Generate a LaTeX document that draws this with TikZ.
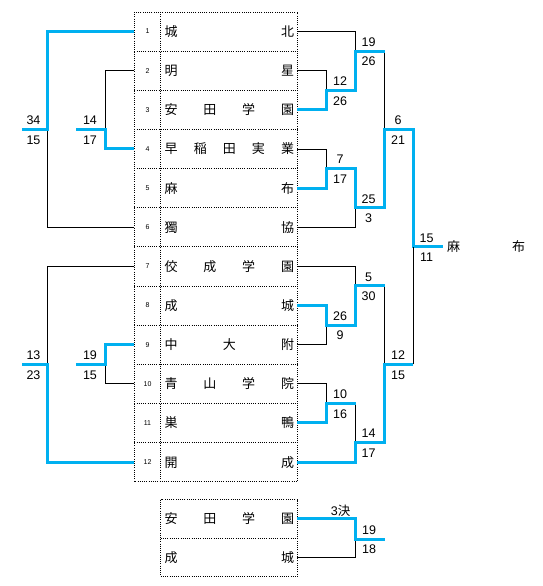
\documentclass[tikz,border=0pt]{standalone}
\usepackage{fontspec}
\setmainfont{Liberation Sans}
\newfontfamily\jp{Noto Sans CJK JP}
\definecolor{bblue}{RGB}{0,176,240}
\begin{document}
\begin{tikzpicture}[x=1pt,y=-1pt,
  win/.style={line width=3pt,bblue},
  lose/.style={line width=0.9pt,black},
  dotl/.style={line width=0.9pt,dash pattern=on 1pt off 1.2pt},
  sc/.style={inner sep=0pt,font=\fontsize{12.5}{12.5}\selectfont},
  num/.style={inner sep=0pt,font=\fontsize{7}{7}\selectfont},
  nm/.style={inner sep=0pt,anchor=west,font=\jp\fontsize{13}{13}\selectfont}]
\useasboundingbox (0,0) rectangle (542,586);
\def\T{12}\def\H{39.14}
% table
\draw[dotl] (134.3,12) rectangle (297.3,481.7);
\draw[dotl] (160.7,12) -- (160.7,481.7);
\foreach \i in {1,...,11}{\draw[dotl] (134.3,{\T+\i*\H}) -- (297.3,{\T+\i*\H});}
\foreach \i in {1,...,12}{
  \coordinate (L\i) at (134.3,{\T+(\i-0.5)*\H});
  \coordinate (R\i) at (297.3,{\T+(\i-0.5)*\H});
  \node[num] (k\i) at (147.5,{\T+(\i-0.5)*\H}) {\i};
}
\foreach \i/\t in {1/{城\hfill 北},2/{明\hfill 星},3/{安\hfill 田\hfill 学\hfill 園},4/{早\hfill 稲\hfill 田\hfill 実\hfill 業},5/{麻\hfill 布},6/{獨\hfill 協},7/{佼\hfill 成\hfill 学\hfill 園},8/{成\hfill 城},9/{中\hfill 大\hfill 附},10/{青\hfill 山\hfill 学\hfill 院},11/{巣\hfill 鴨},12/{開\hfill 成}}{
  \node[nm] (n\i) at (164.5,{\T+(\i-0.5)*\H}) {\makebox[129.3pt][s]{\t}};
}
% boundaries
\foreach \i in {1,...,11}{\coordinate (b\i) at (0,{\T+\i*\H});}
% left junctions
\coordinate (JL1) at (47.3,{\T+3*\H}); \coordinate (EL1) at (22,{\T+3*\H});
\coordinate (JL2) at (105.3,{\T+3*\H}); \coordinate (EL2) at (76.3,{\T+3*\H});
\coordinate (JL3) at (47.3,{\T+9*\H}); \coordinate (EL3) at (22,{\T+9*\H});
\coordinate (JL4) at (105.3,{\T+9*\H}); \coordinate (EL4) at (76.3,{\T+9*\H});
% right junctions
\coordinate (JR1) at (355.7,{\T+1*\H}); \coordinate (A1) at (384.7,{\T+1*\H});
\coordinate (JR23) at (326.3,{\T+2*\H});
\coordinate (SF1) at (384.7,{\T+3*\H}); \coordinate (F1) at (413.3,{\T+3*\H});
\coordinate (JR45) at (326.3,{\T+4*\H});
\coordinate (JR6) at (355.7,{\T+5*\H}); \coordinate (B1) at (384.7,{\T+5*\H});
\coordinate (FJ) at (413.3,{\T+6*\H}); \coordinate (W) at (442.7,{\T+6*\H});
\coordinate (JR7) at (355.7,{\T+7*\H}); \coordinate (C1) at (384.7,{\T+7*\H});
\coordinate (JR89) at (326.3,{\T+8*\H});
\coordinate (SF2) at (384.7,{\T+9*\H}); \coordinate (F2) at (413.3,{\T+9*\H});
\coordinate (JR1011) at (326.3,{\T+10*\H}); \coordinate (D1) at (355.7,{\T+10*\H});
\coordinate (JR12) at (355.7,{\T+11*\H}); \coordinate (E1) at (384.7,{\T+11*\H});
% left brackets
\draw[lose] (JL1) |- (L6);
\draw[win] (L1) -| (JL1) -- (EL1);
\draw[lose] (L2) -| (JL2);
\draw[win] (EL2) -- (JL2) |- (L4);
\draw[lose] (L7) -| (JL3);
\draw[win] (EL3) -- (JL3) |- (L12);
\draw[lose] (JL4) |- (L10);
\draw[win] (EL4) -- (JL4) |- (L9);
% right top
\draw[lose] (R1) -| (JR1);
\draw[lose] (R2) -| (JR23);
\draw[lose] (A1) -- (SF1);
\draw[lose] (R4) -| (JR45);
\draw[lose] (R6) -| (JR6);
\draw[win] (R3) -| (JR23) -| (JR1) -- (A1);
\draw[win] (R5) -| (JR45) -| (JR6) -- (B1) -- (SF1) -- (F1) -- (FJ) -- (W);
% right bottom
\draw[lose] (R7) -| (JR7);
\draw[lose] (R9) -| (JR89);
\draw[lose] (C1) -- (SF2);
\draw[lose] (R10) -| (JR1011);
\draw[lose] (D1) -- (JR12);
\draw[lose] (F2) -- (FJ);
\draw[win] (R8) -| (JR89) -| (JR7) -- (C1);
\draw[win] (R11) -| (JR1011) -- (D1);
\draw[win] (R12) -| (JR12) -- (E1) -- (SF2) -- (F2);
% winner
\node[nm] (champ) at (446.8,246.7) {\makebox[78pt][s]{麻\hfill 布}};
% scores
\foreach \nn/\x/\y/\a/\b in {l1/33.5/3/34/15, l2/90/3/14/17, l3/33.5/9/13/23, l4/90/9/19/15,
  r1/368.5/1/19/26, r2/340/2/12/26, r3/398/3/6/21, r4/340/4/7/17, r5/368.5/5/25/3,
  f/426.5/6/15/11, r7/368.5/7/5/30, r8/340/8/26/9, r9/398/9/12/15, r10/340/10/10/16, r11/368.5/11/14/17}{
  \node[sc] (\nn a) at (\x,{\T+\y*\H-9}) {\a};
  \node[sc] (\nn b) at (\x,{\T+\y*\H+10.5}) {\b};
}
% third place
\draw[dotl] (160.7,499.5) rectangle (297.3,576.5);
\draw[dotl] (160.7,538.3) -- (297.3,538.3);
\node[nm] (t1) at (164.5,519) {\makebox[129.3pt][s]{安\hfill 田\hfill 学\hfill 園}};
\node[nm] (t2) at (164.5,557.5) {\makebox[129.3pt][s]{成\hfill 城}};
\coordinate (Q1) at (297.3,518.7); \coordinate (Q2) at (297.3,557.3);
\coordinate (J3) at (355.7,539); \coordinate (G1) at (385,539);
\draw[lose] (Q2) -| (J3);
\draw[win] (Q1) -| (J3) -- (G1);
\node[sc] (t3) at (340.7,510.7) {3{\jp 決}};
\node[sc] (t3a) at (369,530) {19};
\node[sc] (t3b) at (369,549.5) {18};
\end{tikzpicture}
\end{document}
